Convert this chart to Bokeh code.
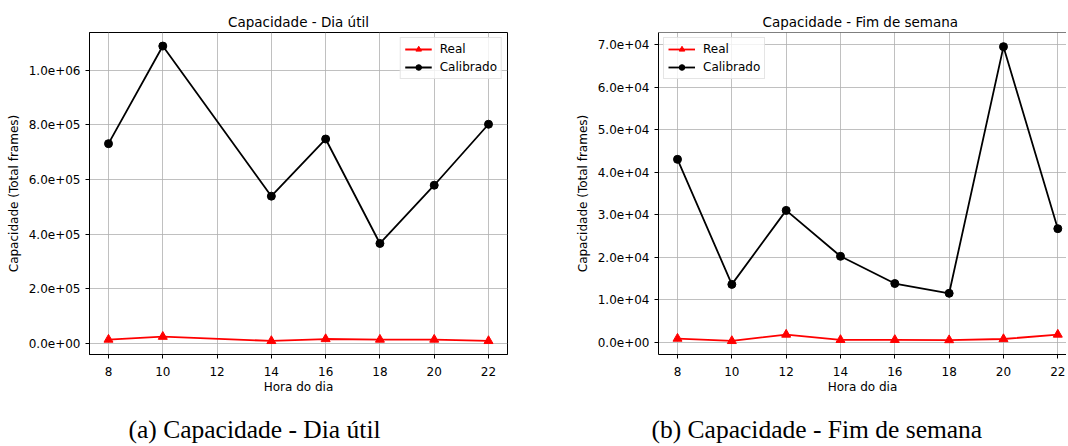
from bokeh.plotting import figure
from bokeh.models import (Range1d, FixedTicker, CustomJSTickFormatter, Title,
                          Legend, LegendItem, Span)
from bokeh.layouts import row
from bokeh.embed import file_html
from bokeh.resources import INLINE

# ---- data ----
hours_weekday = [8, 10, 14, 16, 18, 20, 22]
real_weekday = [14500, 25000, 9500, 16500, 14500, 14500, 9500]
calib_weekday = [731000, 1088000, 539000, 748000, 366000, 579000, 802000]

hours_weekend = [8, 10, 12, 14, 16, 18, 20, 22]
real_weekend = [850, 300, 1800, 550, 550, 500, 750, 1800]
calib_weekend = [43000, 13600, 31000, 20200, 13800, 11500, 69500, 26700]

x_ticks = [8, 10, 12, 14, 16, 18, 20, 22]
y_ticks_weekday = [0, 200000, 400000, 600000, 800000, 1000000]
y_ticks_weekend = [0, 10000, 20000, 30000, 40000, 50000, 60000, 70000]

titles = ["Capacidade - Dia útil", "Capacidade - Fim de semana"]
captions = ["(a) Capacidade - Dia útil", "(b) Capacidade - Fim de semana"]
x_label = "Hora do dia"
y_label = "Capacidade (Total frames)"
series_names = ["Real", "Calibrado"]

SANS = "DejaVu Sans"
SERIF = "Liberation Serif"
FS = "12px"
H = 444
TOP = 32
FRAME_H = 322


def fmt():
    return CustomJSTickFormatter(code="""
        var s = tick.toExponential(1);
        return s.replace(/e([+-])(\\d)$/, function(m, a, b) { return 'e' + a + '0' + b; });
    """)


def make_fig(title, xs, real, calib, yticks, x_rng, y_rng, width, mbl, mbr,
             legend_loc, caption, cap_offset, title_align, title_offset, full_outline):
    p = figure(width=width, height=H,
               x_range=Range1d(*x_rng), y_range=Range1d(*y_rng),
               output_backend="svg", toolbar_location=None,
               min_border_left=mbl, min_border_right=mbr,
               min_border_top=TOP, min_border_bottom=H - TOP - FRAME_H)
    p.background_fill_color = "white"
    p.border_fill_color = "white"

    p.title.text = title
    p.title.align = title_align
    p.title.offset = title_offset
    p.title.text_font = SANS
    p.title.text_font_size = "13.5px"
    p.title.text_font_style = "normal"
    p.title.text_color = "black"
    p.title.standoff = 6

    if full_outline:
        p.outline_line_color = "black"
        p.outline_line_width = 1
        p.outline_line_alpha = 1
    else:
        p.outline_line_color = None
        p.add_layout(Span(location=y_rng[1], dimension="width",
                          line_color="black", line_width=1))

    for ax in (p.xaxis[0], p.yaxis[0]):
        ax.axis_line_color = "black"
        ax.axis_line_width = 1
        ax.major_tick_line_color = "black"
        ax.major_tick_out = 4
        ax.major_tick_in = 0
        ax.minor_tick_line_color = None
        ax.major_label_text_font = SANS
        ax.major_label_text_font_size = FS
        ax.major_label_text_color = "black"
        ax.axis_label_text_font = SANS
        ax.axis_label_text_font_size = FS
        ax.axis_label_text_font_style = "normal"
        ax.axis_label_text_color = "black"

    p.xaxis.ticker = FixedTicker(ticks=x_ticks)
    p.xaxis.axis_label = x_label
    p.xaxis.major_label_standoff = 8
    p.xaxis.axis_label_standoff = 1

    p.yaxis.ticker = FixedTicker(ticks=yticks)
    p.yaxis.formatter = fmt()
    p.yaxis.axis_label = y_label
    p.yaxis.major_label_standoff = 5
    p.yaxis.axis_label_standoff = 5

    p.grid.grid_line_color = "#b0b0b0"
    p.grid.grid_line_width = 0.8
    p.grid.grid_line_alpha = 1

    l1 = p.line(xs, real, line_color="#ff0000", line_width=1.8)
    s1 = p.scatter(xs, real, marker="triangle", size=9,
                   fill_color="#ff0000", line_color="#ff0000")
    l2 = p.line(xs, calib, line_color="black", line_width=1.8)
    s2 = p.scatter(xs, calib, marker="circle", size=8,
                   fill_color="black", line_color="black")

    legend = Legend(items=[LegendItem(label=series_names[0], renderers=[l1, s1]),
                           LegendItem(label=series_names[1], renderers=[l2, s2])],
                    location=legend_loc)
    legend.label_text_font = SANS
    legend.label_text_font_size = FS
    legend.label_text_color = "black"
    legend.glyph_width = 27
    legend.glyph_height = 14
    legend.label_height = 14
    legend.label_standoff = 8
    legend.spacing = 4
    legend.padding = 4
    legend.margin = 5
    legend.border_line_color = "#cccccc"
    legend.border_line_width = 1
    legend.background_fill_alpha = 0.8
    p.add_layout(legend)

    spacer = Title(text=" ", text_font_size="1px", standoff=12)
    p.add_layout(spacer, "below")
    cap = Title(text=caption, align="left", offset=cap_offset,
                text_font=SERIF, text_font_size="25.5px",
                text_font_style="normal", text_color="black", standoff=2)
    p.add_layout(cap, "below")
    return p


p1 = make_fig(titles[0], hours_weekday, real_weekday, calib_weekday,
              y_ticks_weekday, (7.3, 22.7), (-40100, 1137600),
              534, 89, 27, "top_right", captions[0], 39, "center", 0, True)
p2 = make_fig(titles[1], hours_weekend, real_weekend, calib_weekend,
              y_ticks_weekend, (7.3, 22.32), (-2890, 72830),
              532, 124, 0, "top_left", captions[1], -7, "left", 104, False)

layout = row(p1, p2, spacing=0)
open("out.html", "w").write(file_html(layout, INLINE))
